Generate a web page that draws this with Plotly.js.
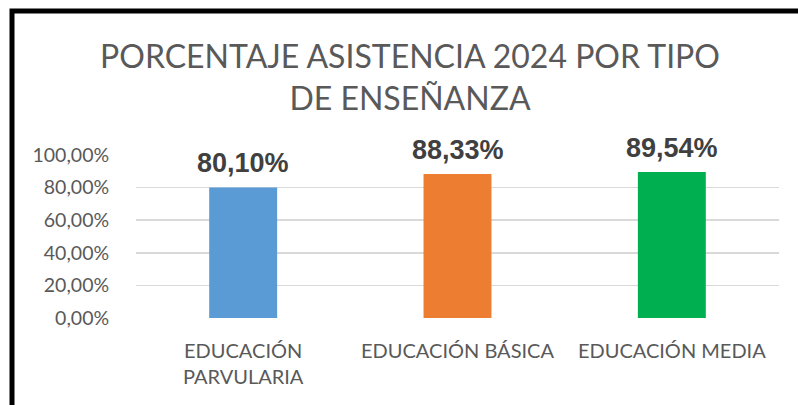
<!DOCTYPE html>
<html>
<head>
<meta charset="utf-8">
<script src="https://cdn.plot.ly/plotly-3.0.1.min.js"></script>
<style>
  html, body { margin: 0; padding: 0; background: #ffffff; }
  #chart { width: 798px; height: 405px; }
</style>
</head>
<body>
<div id="chart"></div>
<script>
var categories = ["EDUCACIÓN PARVULARIA", "EDUCACIÓN BÁSICA", "EDUCACIÓN MEDIA"];
var tickLabels = ["EDUCACIÓN<br>PARVULARIA", "EDUCACIÓN BÁSICA", "EDUCACIÓN MEDIA"];
var values = [0.8010, 0.8833, 0.8954];
var valueLabels = ["80,10%", "88,33%", "89,54%"];
var barColors = ["#5B9BD5", "#ED7D31", "#00B050"];
var yTicks = [0, 0.2, 0.4, 0.6, 0.8, 1.0];
var yTickLabels = ["0,00%", "20,00%", "40,00%", "60,00%", "80,00%", "100,00%"];
var titleText = "PORCENTAJE ASISTENCIA 2024 POR TIPO<br>DE ENSEÑANZA";

var trace = {
  type: "bar",
  x: categories,
  y: values,
  marker: { color: barColors },
  hoverinfo: "none",
  cliponaxis: false
};

var annotations = categories.map(function (c, i) {
  return {
    x: c, y: values[i], xref: "x", yref: "y",
    text: valueLabels[i], showarrow: false,
    yanchor: "bottom", yshift: 7,
    font: { family: "Liberation Sans, Arial, sans-serif", size: 27, color: "#404040", weight: "bold" }
  };
});

var layout = {
  width: 798, height: 405,
  margin: { l: 136, r: 19, t: 155, b: 86.5, pad: 0 },
  paper_bgcolor: "#ffffff",
  plot_bgcolor: "#ffffff",
  showlegend: false,
  bargap: 0.683,
  title: {
    text: titleText,
    font: { family: "Lato, sans-serif", size: 32, color: "#595959" },
    x: 410 / 798, xref: "container", xanchor: "center",
    y: 1 - 68 / 405, yref: "container", yanchor: "top"
  },
  xaxis: {
    type: "category",
    tickvals: categories,
    ticktext: tickLabels,
    tickfont: { family: "Lato, sans-serif", size: 20, color: "#595959" },
    showgrid: false, zeroline: false, showline: false,
    ticks: "outside", ticklen: 15, tickcolor: "rgba(0,0,0,0)",
    fixedrange: true
  },
  yaxis: {
    range: [0, 1],
    tickvals: yTicks,
    ticktext: yTickLabels,
    tickfont: { family: "Lato, sans-serif", size: 19.5, color: "#595959" },
    showgrid: true, gridcolor: "#d9d9d9", gridwidth: 1.5,
    zeroline: false, showline: false,
    ticks: "outside", ticklen: 22, tickcolor: "rgba(0,0,0,0)",
    fixedrange: true
  },
  annotations: annotations,
  shapes: [{
    type: "rect", xref: "paper", yref: "paper",
    x0: (12 - 136) / 643, x1: (830 - 136) / 643,
    y0: (318.5 - 440) / 163.5, y1: (318.5 - 10.5) / 163.5,
    line: { color: "#000000", width: 5 },
    fillcolor: "rgba(0,0,0,0)",
    layer: "above"
  }]
};

Plotly.newPlot("chart", [trace], layout, { displayModeBar: false, staticPlot: true });
</script>
</body>
</html>
